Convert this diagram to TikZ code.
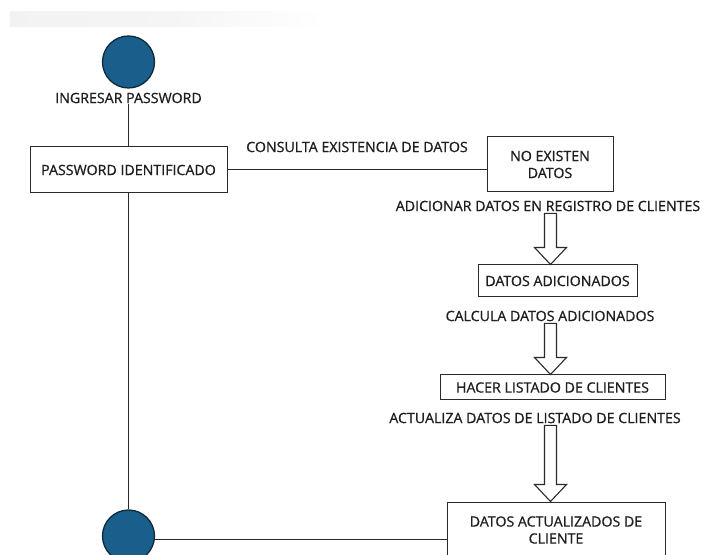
\documentclass[tikz,border=0pt]{standalone}
\usepackage{fontspec}
\setmainfont{Open Sans}[FakeBold=0.9]
\usetikzlibrary{calc}
\definecolor{dotfill}{HTML}{1A5E8C}
\definecolor{dotline}{HTML}{0E2A3E}
\definecolor{edge}{HTML}{2A2A2A}
\tikzset{
  x=1pt, y=1pt,
  every node/.style={font=\fontsize{14.2}{17}\selectfont, text=black!88},
  state/.style={draw=edge, line width=1pt, fill=white, inner sep=0pt, align=center},
  dot/.style={circle, draw=dotline, line width=1.3pt, fill=dotfill, minimum size=52pt, inner sep=0pt},
  lbl/.style={inner sep=1pt},
  link/.style={draw=edge, line width=1pt},
  blockarrow/.style={draw=edge, line width=1.1pt, fill=white, line join=miter},
}
% hollow block arrow: shaft starts below node #1, tip touches node #2, centred on coordinate #3
\newcommand{\hollowarrow}[3]{%
  \draw[blockarrow] let \p1=(#1.south), \p2=(#2.north), \p3=(#3) in
    (\x3-6pt,\y1-1pt) -- (\x3+6pt,\y1-1pt) -- (\x3+6pt,\y2+17pt) -- (\x3+16pt,\y2+17pt)
    -- (\x3,\y2) -- (\x3-16pt,\y2+17pt) -- (\x3-6pt,\y2+17pt) -- cycle;}
\begin{document}
\begin{tikzpicture}
\useasboundingbox (0,0) rectangle (706,554);
% faint band along the top edge
\shade[left color=gray!10, right color=white, middle color=gray!8] (10,527) rectangle (325,542);

% start and end points
\node[dot] (s) at (128.5,492) {};
\node[lbl] (sl) at (128.5,456) {INGRESAR PASSWORD};
\node[dot] (e) at (128.5,18) {};

% states
\node[state, minimum width=197pt, minimum height=46pt] (p) at (128.5,384) {PASSWORD IDENTIFICADO};
\node[state, minimum width=126pt, minimum height=55pt] (ne) at (550,389.5) {NO EXISTEN\\DATOS};
\node[state, minimum width=159pt, minimum height=32pt] (da) at (557.5,273) {DATOS ADICIONADOS};
\node[state, minimum width=225pt, minimum height=25pt] (hl) at (552.5,166.5) {HACER LISTADO DE CLIENTES};
\node[state, minimum width=218pt, minimum height=56pt] (dac) at (556,24) {DATOS ACTUALIZADOS DE\\CLIENTE};

% transition labels
\node[lbl] (t1) at (357,407) {CONSULTA EXISTENCIA DE DATOS};
\node[lbl] (t2) at (548,348) {ADICIONAR DATOS EN REGISTRO DE CLIENTES};
\node[lbl] (t3) at (550,238) {CALCULA DATOS ADICIONADOS};
\node[lbl] (t4) at (535,136) {ACTUALIZA DATOS DE LISTADO DE CLIENTES};
\coordinate (ax) at (550.5,0);

% plain connectors
\draw[link] (sl.south) -- (p.north);
\draw[link] (p.east) -- (p.east -| ne.west);
\draw[link] (p.south) -- (e.north);
\draw[link] ([yshift=-3.5pt]e.east) -- ([yshift=-3.5pt]e.east -| dac.west);

% block arrows
\hollowarrow{t2}{da}{ax}
\hollowarrow{t3}{hl}{ax}
\hollowarrow{t4}{dac}{ax}
\end{tikzpicture}
\end{document}
